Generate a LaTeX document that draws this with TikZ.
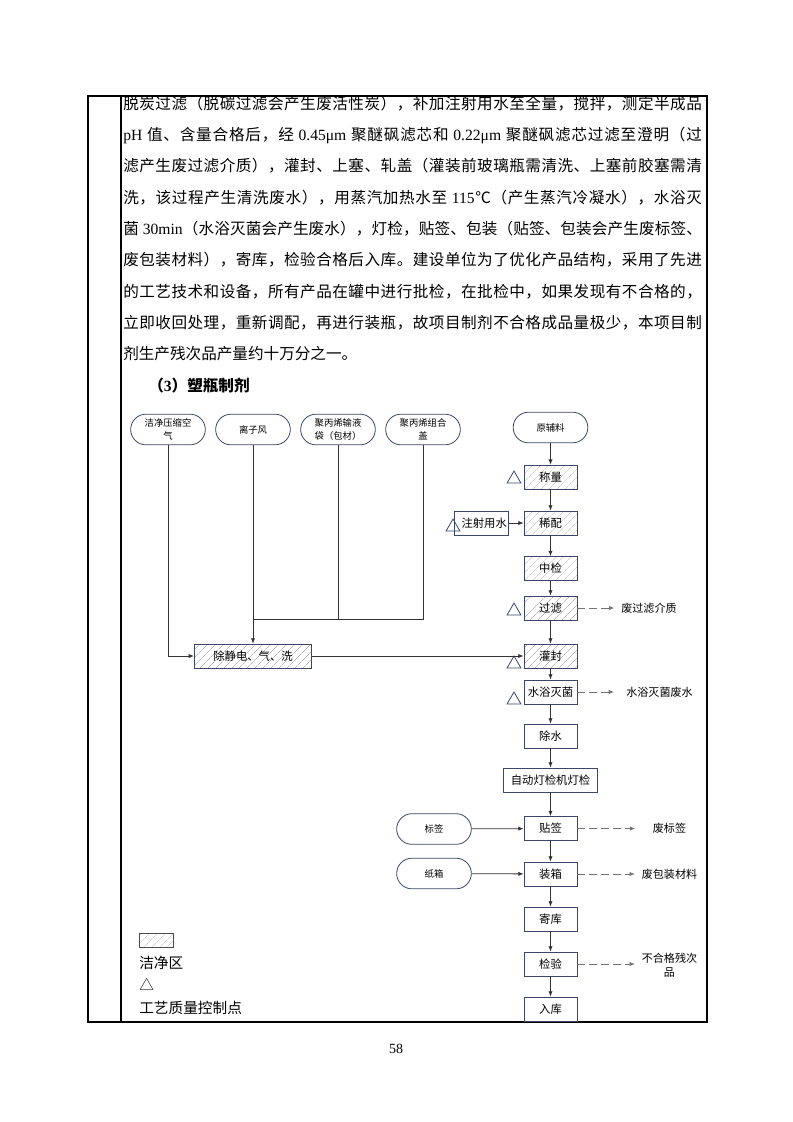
\documentclass[tikz,border=0pt]{standalone}
\usepackage{fontspec}
\setmainfont{Noto Sans CJK SC}
\newfontfamily\tnr{Liberation Serif}
\usetikzlibrary{arrows.meta,patterns.meta,shapes.geometric}
\definecolor{boxline}{HTML}{3B4668}
\definecolor{wire}{HTML}{333333}
% spread one line of text over the full column width
\def\spreadend{spreadend}
\def\spreadloop#1{\ifx\spreadend#1\else{#1}\hskip 0pt plus 1fil\expandafter\spreadloop\fi}
\def\spreadline#1{\hbox to 434pt{\spreadloop#1\spreadend\unskip}}

\begin{document}
\begin{tikzpicture}[x=0.75pt,y=-0.75pt,
% common options for the text lines:
txt/.style = {anchor=base west, inner sep=0, font=\fontsize{11.7}{14}\selectfont},
% common options for the process boxes:
proc/.style = {draw=boxline, line width=0.6pt, minimum width=39.75pt,
            minimum height=18pt, inner sep=1pt, font=\fontsize{8.5}{10}\selectfont},
clean/.style = {proc, pattern={Lines[angle=45,distance=4pt,line width=0.35pt]},
            pattern color=gray!55},
% common options for the rounded inputs:
term/.style = {draw=boxline, line width=0.6pt, rounded corners=11.5pt, align=center,
            minimum width=56pt, minimum height=23pt, inner sep=1pt,
            font=\fontsize{7}{10}\selectfont},
% quality control point:
qc/.style = {regular polygon, regular polygon sides=3, draw=boxline,
            line width=0.6pt, minimum size=12pt, inner sep=0},
flow/.style = {-{Latex[length=4pt,width=3.2pt]}, wire, line width=0.6pt},
waste/.style = {flow, dash pattern=on 5.5pt off 3.5pt, gray!90!black},
note/.style = {inner sep=0, align=center, font=\fontsize{8.3}{10.5}\selectfont}]
\useasboundingbox (0,0) rectangle (793,1122);
% table frame
\draw[line width=0.8pt] (88,96) rectangle (707,1022);
\draw[line width=0.8pt] (121,96) -- (121,1022);
% text above the chart
\node[txt] (L1) at (123,109) {\spreadline{脱炭过滤（脱碳过滤会产生废活性炭），补加注射用水至全量，搅拌，测定半成品}};
\node[txt] (L2) at (123,140.4) {\spreadline{{\tnr pH\ }值、含量合格后，经{\tnr\ 0.45μm\ }聚醚砜滤芯和{\tnr\ 0.22μm\ }聚醚砜滤芯过滤至澄明（过}};
\node[txt] (L3) at (123,171.7) {\spreadline{滤产生废过滤介质），灌封、上塞、轧盖（灌装前玻璃瓶需清洗、上塞前胶塞需清}};
\node[txt] (L4) at (123,203) {\spreadline{洗，该过程产生清洗废水），用蒸汽加热水至{\tnr\ 115}℃（产生蒸汽冷凝水），水浴灭}};
\node[txt] (L5) at (123,234.4) {\spreadline{菌{\tnr\ 30min}（水浴灭菌会产生废水），灯检，贴签、包装（贴签、包装会产生废标签、}};
\node[txt] (L6) at (123,265.8) {\spreadline{废包装材料），寄库，检验合格后入库。建设单位为了优化产品结构，采用了先进}};
\node[txt] (L7) at (123,297.1) {\spreadline{的工艺技术和设备，所有产品在罐中进行批检，在批检中，如果发现有不合格的，}};
\node[txt] (L8) at (123,328.5) {\spreadline{立即收回处理，重新调配，再进行装瓶，故项目制剂不合格成品量极少，本项目制}};
\node[txt] (L9) at (123,359.8) {剂生产残次品产量约十万分之一。};
\node[txt, font=\fontsize{11.7}{14}\selectfont\bfseries] (head) at (148,391.2) {（{\tnr\bfseries 3}）塑瓶制剂};
% inputs
\node[term] (air) at (168,429.5) {洁净压缩空\\气};
\node[term] (ion) at (253,429.5) {离子风};
\node[term] (bag) at (338,429.5) {聚丙烯输液\\袋（包材）};
\node[term] (cap) at (423,429.5) {聚丙烯组合\\盖};
\node[term] (raw) at (550.5,427.5) {原辅料};
\node[term] (tag) at (434,829) {标签};
\node[term] (carton) at (434,873.5) {纸箱};
% main line
\node[clean] (weigh) at (550.5,477) {称量};
\node[proc] (wfi) at (481.5,523) {\hspace{4pt}注射用水};
\node[clean] (dilute) at (550.5,523) {稀配};
\node[clean] (mid) at (550.5,568.5) {中检};
\node[clean] (filt) at (550.5,608) {过滤};
\node[clean, minimum width=88pt] (destat) at (253,656) {除静电、气、洗};
\node[clean] (fill) at (550.5,656) {灌封};
\node[proc] (steril) at (550.5,692) {水浴灭菌};
\node[proc] (dewat) at (550.5,736) {除水};
\node[proc, minimum width=71pt] (lamp) at (550.5,780) {自动灯检机灯检};
\node[proc] (label) at (550.5,828.5) {贴签};
\node[proc] (pack) at (550.5,874) {装箱};
\node[proc] (store) at (550.5,919) {寄库};
\node[proc] (check) at (550.5,964) {检验};
\node[proc] (stock) at (550.5,1009) {入库};
% control points
\node[qc] (q1) at (514,479) {};
\node[qc] (q2) at (453,527) {};
\node[qc] (q3) at (514,611) {};
\node[qc] (q4) at (514,664) {};
\node[qc] (q5) at (514,700) {};
% wastes
\node[note] (w1) at (649,608) {废过滤介质};
\node[note] (w2) at (659.5,692) {水浴灭菌废水};
\node[note] (w3) at (669.5,828.5) {废标签};
\node[note] (w4) at (669.5,874) {废包装材料};
\node[note] (w5) at (669.5,965) {不合格残次\\品};
% connections
\draw[flow] (raw) -- (weigh);
\draw[flow] (weigh) -- (dilute);
\draw[flow] (wfi) -- (dilute);
\draw[flow] (dilute) -- (mid);
\draw[flow] (mid) -- (filt);
\draw[flow] (filt) -- (fill);
\draw[flow] (fill) -- (steril);
\draw[flow] (steril) -- (dewat);
\draw[flow] (dewat) -- (lamp);
\draw[flow] (lamp) -- (label);
\draw[flow] (label) -- (pack);
\draw[flow] (pack) -- (store);
\draw[flow] (store) -- (check);
\draw[flow] (check) -- (stock);
\draw[flow] (tag) -- (label);
\draw[flow] (carton) -- (pack);
\draw[flow] (air) |- (destat);
\coordinate (bus) at (423,619);
\draw[wire, line width=0.6pt] (cap) -- (bus) -- (ion.south |- bus);
\draw[wire, line width=0.6pt] (bag) -- (bag.south |- bus);
\draw[flow] (ion) -- (destat);
\draw[flow] (destat) -- (fill);
\draw[waste, shorten >=5pt] (filt) -- (w1);
\draw[waste, shorten >=9pt] (steril) -- (w2);
\draw[waste, shorten >=13pt] (label) -- (w3);
\draw[waste, shorten >=5pt] (pack) -- (w4);
\draw[waste, shorten >=5pt] (check) -- (w5.west |- check);
% legend
\node[clean, draw=black!70, minimum width=26pt, minimum height=10.5pt] (key) at (156.5,940) {};
\node[anchor=west, inner sep=0, font=\fontsize{11}{13}\selectfont] (keytxt) at (139,963) {洁净区};
\node[anchor=west, inner sep=0, font=\fontsize{11}{13}\selectfont] (qctri) at (139,984) {△};
\node[anchor=west, inner sep=0, font=\fontsize{11}{13}\selectfont] (qctxt) at (139,1008) {工艺质量控制点};
% page number
\node[font=\tnr\fontsize{10.5}{12}\selectfont] (pg) at (396,1049) {58};
\end{tikzpicture}
\end{document}
